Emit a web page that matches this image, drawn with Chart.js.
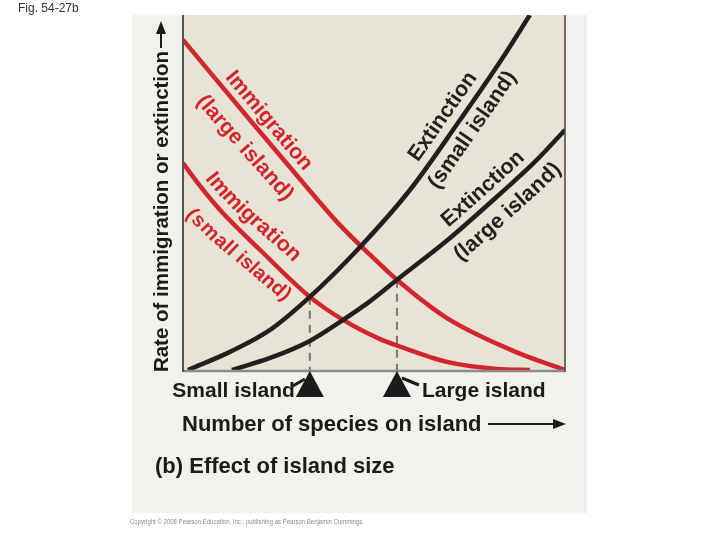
<!DOCTYPE html>
<html><head><meta charset="utf-8">
<script src="https://cdn.jsdelivr.net/npm/chart.js@4.4.1/dist/chart.umd.min.js"></script>
<style>html,body{margin:0;padding:0;background:#fff;}canvas{display:block;}</style>
</head><body>
<canvas id="c" width="720" height="540"></canvas>
<script>
// ---- data (x: number of species 0-100, y: rate 0-100) ----
const immLargeX = [0, 14.9, 30.6, 41.1, 49.0, 56.0, 69.1, 86.4, 100];
const immLargeY = [93.0, 73.8, 53.8, 40.8, 32.4, 25.4, 14.6, 5.4, 0];
const immSmallX = [0, 4.5, 9.7, 20.2, 33.2, 41.9, 51.6, 56.3, 69.1, 82.2, 90.8];
const immSmallY = [58.3, 51.8, 45.1, 33.8, 20.6, 14.1, 8.7, 6.8, 2.3, 0.3, 0];
const extSmallX = [1.3, 12.3, 22.8, 33.2, 46.3, 59.4, 72.5, 83.0, 90.8];
const extSmallY = [0, 5.1, 11.3, 20.6, 34.6, 50.7, 70.4, 86.8, 100];
const extLargeX = [12.8, 22.8, 33.2, 41.9, 49.0, 56.0, 69.9, 83.8, 92.1, 100];
const extLargeY = [0, 3.4, 8.2, 14.1, 19.4, 25.4, 37.2, 50.4, 58.6, 67.6];
const equilibriumX = [33.2, 56.0];
const equilibriumY = [20.6, 25.4];
const islandLabels = ['Small island', 'Large island'];
const curveTitles = ['Immigration', 'Immigration', 'Extinction', 'Extinction'];
const curveSubtitles = ['(large island)', '(small island)', '(small island)', '(large island)'];
const axisTitleY = 'Rate of immigration or extinction';
const axisTitleX = 'Number of species on island';
const panelTitle = '(b) Effect of island size';
const figLabel = 'Fig. 54-27b';
const copyright = 'Copyright \u00A9 2008 Pearson Education, Inc., publishing as Pearson Benjamin Cummings.';

const RED = '#d3252d', BLACK = '#221f1f';
const zip = (xs, ys) => xs.map((x, i) => ({x, y: ys[i]}));

const curve = (xs, ys, color) => ({
  data: zip(xs, ys), showLine: true, borderColor: color, borderWidth: 4.5,
  pointRadius: 0, cubicInterpolationMode: 'monotone', order: color === RED ? 2 : 1
});
const datasets = [
  curve(immLargeX, immLargeY, RED),
  curve(immSmallX, immSmallY, RED),
  curve(extSmallX, extSmallY, BLACK),
  curve(extLargeX, extLargeY, BLACK),
];
equilibriumX.forEach((x, i) => datasets.push({
  data: [{x, y: equilibriumY[i]}, {x, y: 0}], showLine: true, borderColor: '#777',
  borderWidth: 2, borderDash: [8, 6], pointRadius: 0, order: 3
}));

// label placement along curves: start (data x), baseline offset at start/end (px, + = text-up side)
const curveLabelPlacement = [
  {ds: 0, title: {start: 9.2, off: 8, offEnd: 8}, sub: {start: 9.2, off: -30, offEnd: -26}},
  {ds: 1, title: {start: 4.0, off: 8, offEnd: 15}, sub: {start: 6.5, off: -30, offEnd: -20, size: 20}},
  {ds: 2, title: {start: 63.6, off: 10, offEnd: 10}, sub: {start: 62.0, off: -22, offEnd: -22}},
  {ds: 3, title: {start: 70.6, off: 9, offEnd: 9}, sub: {start: 68.3, off: -25, offEnd: -25}},
];
const FONT = '"Liberation Sans", Arial, Helvetica, sans-serif';

function samplesFor(chart, i) {
  const meta = chart.getDatasetMeta(i);
  if (meta.dataset && meta.dataset.updateControlPoints) meta.dataset.updateControlPoints(chart.chartArea, 'x');
  const pts = meta.data, out = [];
  for (let k = 0; k < pts.length - 1; k++) {
    const a = pts[k], b = pts[k + 1];
    const c1x = a.cp2x ?? a.x, c1y = a.cp2y ?? a.y, c2x = b.cp1x ?? b.x, c2y = b.cp1y ?? b.y;
    for (let j = (k === 0 ? 0 : 1); j <= 40; j++) {
      const t = j / 40, m = 1 - t;
      out.push({
        x: m*m*m*a.x + 3*m*m*t*c1x + 3*m*t*t*c2x + t*t*t*b.x,
        y: m*m*m*a.y + 3*m*m*t*c1y + 3*m*t*t*c2y + t*t*t*b.y
      });
    }
  }
  let s = 0; out[0].s = 0;
  for (let k = 1; k < out.length; k++) { s += Math.hypot(out[k].x - out[k-1].x, out[k].y - out[k-1].y); out[k].s = s; }
  return out;
}
function at(sm, s) {
  let k = 1;
  while (k < sm.length - 1 && sm[k].s < s) k++;
  const a = sm[k-1], b = sm[k];
  const f = b.s > a.s ? (s - a.s) / (b.s - a.s) : 0;
  return {x: a.x + (b.x - a.x) * f, y: a.y + (b.y - a.y) * f, ang: Math.atan2(b.y - a.y, b.x - a.x)};
}
function textOnCurve(ctx, sm, text, startPx, spec, color) {
  const off = spec.off, offEnd = spec.offEnd;
  let k = 0;
  while (k < sm.length - 1 && sm[k].x < startPx) k++;
  let s = sm[k].s;
  ctx.save();
  ctx.fillStyle = color;
  ctx.font = 'bold ' + (spec.size || 21.5) + 'px ' + FONT;
  ctx.textAlign = 'center';
  ctx.textBaseline = 'alphabetic';
  const total = ctx.measureText(text).width, s0 = s;
  for (const ch of text) {
    const w = ctx.measureText(ch).width;
    const p = at(sm, s + w / 2);
    const o = off + (offEnd - off) * ((s + w / 2 - s0) / total);
    const ux = Math.sin(p.ang), uy = -Math.cos(p.ang);
    ctx.save();
    ctx.translate(p.x + ux * o, p.y + uy * o);
    ctx.rotate(p.ang);
    ctx.fillText(ch, 0, 0);
    ctx.restore();
    s += w;
  }
  ctx.restore();
}

const decor = {
  id: 'decor',
  beforeDraw(chart) {
    const {ctx, chartArea: a} = chart;
    ctx.save();
    ctx.fillStyle = '#f3f1ec';
    ctx.fillRect(132, a.top, 455, 498);
    ctx.fillStyle = '#e7e4d6';
    ctx.fillRect(a.left, a.top, a.right - a.left, a.bottom - a.top);
    ctx.restore();
  },
  afterDatasetsDraw(chart) {
    const {ctx, chartArea: a, scales: {x: xs}} = chart;
    curveLabelPlacement.forEach(p => {
      const sm = samplesFor(chart, p.ds);
      const color = p.ds < 2 ? RED : BLACK;
      textOnCurve(ctx, sm, curveTitles[p.ds], xs.getPixelForValue(p.title.start), p.title, color);
      textOnCurve(ctx, sm, curveSubtitles[p.ds], xs.getPixelForValue(p.sub.start), p.sub, color);
    });
    ctx.save();
    // frame
    ctx.strokeStyle = '#8b8b8b'; ctx.lineWidth = 2.5;
    ctx.beginPath(); ctx.moveTo(a.left, a.bottom + 1); ctx.lineTo(a.right, a.bottom + 1); ctx.stroke();
    ctx.strokeStyle = '#555'; ctx.lineWidth = 2;
    ctx.beginPath(); ctx.moveTo(a.left, a.top); ctx.lineTo(a.left, a.bottom + 2); ctx.stroke();
    ctx.strokeStyle = '#444'; ctx.lineWidth = 1.5;
    ctx.beginPath(); ctx.moveTo(a.right, a.top); ctx.lineTo(a.right, a.bottom + 2); ctx.stroke();

    // triangles and island labels
    ctx.fillStyle = '#1c1a1a'; ctx.strokeStyle = '#1c1a1a';
    ctx.font = 'bold 21px ' + FONT; ctx.textBaseline = 'alphabetic';
    equilibriumX.forEach((v, i) => {
      const px = xs.getPixelForValue(v), b = a.bottom;
      ctx.beginPath(); ctx.moveTo(px, b + 1); ctx.lineTo(px - 14, b + 27); ctx.lineTo(px + 14, b + 27); ctx.closePath(); ctx.fill();
      ctx.lineWidth = 3; ctx.beginPath();
      if (i === 0) { ctx.moveTo(px - 17, b + 16); ctx.lineTo(px - 5, b + 9); }
      else { ctx.moveTo(px + 5, b + 8); ctx.lineTo(px + 22, b + 15); }
      ctx.stroke();
      if (i === 0) { ctx.textAlign = 'right'; ctx.fillText(islandLabels[i], px - 15, b + 27); }
      else { ctx.textAlign = 'left'; ctx.fillText(islandLabels[i], px + 25, b + 27); }
    });

    // x axis title + arrow
    ctx.font = 'bold 22px ' + FONT; ctx.textAlign = 'left';
    ctx.fillText(axisTitleX, 182, 431);
    ctx.lineWidth = 2;
    ctx.beginPath(); ctx.moveTo(488, 424); ctx.lineTo(556, 424); ctx.stroke();
    ctx.beginPath(); ctx.moveTo(566, 424); ctx.lineTo(553, 419); ctx.lineTo(553, 429); ctx.closePath(); ctx.fill();

    // y axis title + arrow
    ctx.save();
    ctx.translate(168, 211.5); ctx.rotate(-Math.PI / 2);
    ctx.font = 'bold 20.5px ' + FONT; ctx.textAlign = 'center';
    ctx.fillText(axisTitleY, 0, 0);
    ctx.restore();
    ctx.beginPath(); ctx.moveTo(161, 48); ctx.lineTo(161, 31); ctx.stroke();
    ctx.beginPath(); ctx.moveTo(161, 21); ctx.lineTo(156, 34); ctx.lineTo(166, 34); ctx.closePath(); ctx.fill();

    // panel caption
    ctx.font = 'bold 22px ' + FONT; ctx.textAlign = 'left';
    ctx.fillText(panelTitle, 155, 473);

    // figure label and copyright
    ctx.fillStyle = '#333'; ctx.font = '12px ' + FONT;
    ctx.fillText(figLabel, 18, 12);
    ctx.fillStyle = '#8a8a8a'; ctx.font = '7px ' + FONT;
    ctx.fillText(copyright, 130, 524, 234);
    ctx.restore();
  }
};

new Chart(document.getElementById('c'), {
  type: 'scatter',
  data: {datasets},
  options: {
    responsive: false, animation: false,
    layout: {padding: {left: 183, right: 155, top: 15, bottom: 170}},
    plugins: {legend: {display: false}, tooltip: {enabled: false}},
    scales: {
      x: {type: 'linear', min: 0, max: 100, display: false},
      y: {type: 'linear', min: 0, max: 100, display: false}
    }
  },
  plugins: [decor]
});
</script>
</body></html>
